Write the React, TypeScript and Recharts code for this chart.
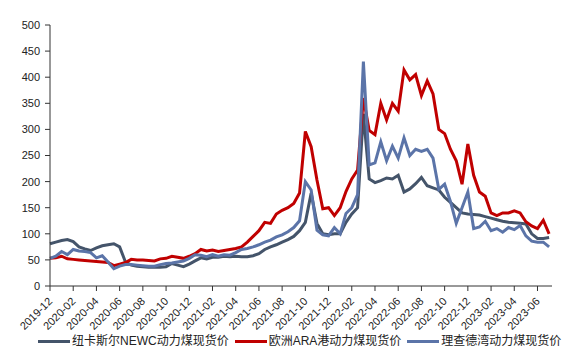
import { LineChart, Line, XAxis, YAxis, Legend } from "recharts";

const FONT = '"Liberation Sans", Arial, "Noto Sans CJK SC", sans-serif';

// half-month steps from 2019-12 to 2023-07
const STEP = 0.5;

const tickLabels = [
  "2019-12", "2020-02", "2020-04", "2020-06", "2020-08", "2020-10", "2020-12",
  "2021-02", "2021-04", "2021-06", "2021-08", "2021-10", "2021-12",
  "2022-02", "2022-04", "2022-06", "2022-08", "2022-10", "2022-12",
  "2023-02", "2023-04", "2023-06",
];

const yTicks = [0, 50, 100, 150, 200, 250, 300, 350, 400, 450, 500];

// 纽卡斯尔NEWC
const newcPrice = [
  81, 84, 87, 89, 85, 75, 71, 68, 73, 77,
  79, 81, 75, 46, 40, 38, 37, 36, 36, 36,
  37, 43, 40, 37, 42, 48, 54, 52, 55, 55,
  57, 56, 57, 56, 56, 58, 62, 70, 75, 79,
  84, 89, 95, 106, 122, 178, 120, 100, 98, 100,
  100, 122, 138, 150, 330, 205, 198, 202, 207, 205,
  212, 180, 186, 196, 208, 192, 188, 184, 170, 160,
  150, 140, 138, 137, 136, 133, 130, 127, 124, 122,
  121, 120, 119, 100, 91, 91, 93,
];

// 欧洲ARA港
const araPrice = [
  53, 54, 57, 52, 51, 50, 49, 48, 47, 46,
  45, 39, 42, 45, 51, 50, 50, 49, 48, 52,
  53, 57, 55, 53, 57, 62, 70, 67, 69, 66,
  68, 70, 72, 75, 84, 95, 106, 122, 120, 138,
  145, 150, 158, 178, 296, 267, 203, 148, 150, 135,
  150, 181, 205, 222, 360, 298, 290, 350, 318, 350,
  335, 414, 395, 405, 365, 393, 368, 300, 292, 262,
  240, 195, 272, 212, 180, 172, 140, 135, 140, 140,
  144, 140, 123, 115, 110, 126, 100,
];

// 理查德湾
const rbPrice = [
  53, 57, 66, 60, 70, 67, 66, 64, 54, 58,
  46, 33, 38, 41, 41, 40, 39, 38, 38, 41,
  43, 44, 46, 48, 53, 60, 59, 56, 60, 57,
  60, 59, 64, 70, 72, 75, 79, 84, 88, 94,
  98, 104, 112, 125, 200, 184, 107, 98, 96, 112,
  100, 139, 150, 175, 430, 232, 236, 276, 240, 268,
  245, 284, 250, 262, 258, 262, 245, 185, 195, 162,
  120, 150, 180, 110, 113, 124, 106, 110, 103, 112,
  108, 116, 96, 86, 84, 84, 75,
];

const series = [
  { key: "newc", name: "纽卡斯尔NEWC动力煤现货价", color: "#44546a", values: newcPrice },
  { key: "ara", name: "欧洲ARA港动力煤现货价", color: "#c00000", values: araPrice },
  { key: "rb", name: "理查德湾动力煤现货价", color: "#5b74a8", values: rbPrice },
];

const data = newcPrice.map((_, i) => ({
  t: i * STEP,
  newc: newcPrice[i],
  ara: araPrice[i],
  rb: rbPrice[i],
}));

const DateTick = (props: any) => {
  const { x, y, payload } = props;
  const ax = x + 3;
  const ay = y + 9;
  return (
    <text
      x={ax}
      y={ay}
      transform={`rotate(-45, ${ax}, ${ay})`}
      textAnchor="end"
      fontSize={11}
      fontFamily={FONT}
      fill="#222"
    >
      {tickLabels[Math.round(payload.value / 2)]}
    </text>
  );
};

const LegendContent = () => (
  <div
    style={{
      display: "flex",
      alignItems: "center",
      height: 14,
      lineHeight: "14px",
      fontSize: 12,
      fontFamily: FONT,
      color: "#222",
      whiteSpace: "nowrap",
    }}
  >
    {series.map((s) => (
      <span key={s.key} style={{ display: "flex", alignItems: "center", marginRight: 6 }}>
        <span style={{ display: "inline-block", width: 32, height: 3, background: s.color, marginRight: 2 }} />
        <span>{s.name}</span>
      </span>
    ))}
  </div>
);

export default function App() {
  return (
    <div style={{ position: "absolute", left: 0, top: 0, width: 570, height: 364, background: "#fff" }}>
      <LineChart width={570} height={364} data={data} margin={{ top: 25, right: 18, left: 0, bottom: 16 }}>
        <XAxis
          dataKey="t"
          type="number"
          domain={[0, 43.25]}
          ticks={tickLabels.map((_, i) => i * 2)}
          interval={0}
          tick={<DateTick />}
          tickSize={5}
          height={48}
          axisLine={{ stroke: "#333" }}
          tickLine={{ stroke: "#333" }}
        />
        <YAxis
          domain={[0, 500]}
          ticks={yTicks}
          interval={0}
          width={50}
          tickSize={5}
          tickMargin={5}
          axisLine={{ stroke: "#333" }}
          tickLine={{ stroke: "#333" }}
          tick={{ fontSize: 11, fill: "#222", fontFamily: FONT }}
        />
        <Legend
          verticalAlign="bottom"
          content={<LegendContent />}
          wrapperStyle={{ left: 38, top: 334, width: 530 }}
        />
        {series.map((s) => (
          <Line
            key={s.key}
            type="linear"
            dataKey={s.key}
            name={s.name}
            stroke={s.color}
            strokeWidth={3}
            dot={false}
            isAnimationActive={false}
          />
        ))}
      </LineChart>
    </div>
  );
}
